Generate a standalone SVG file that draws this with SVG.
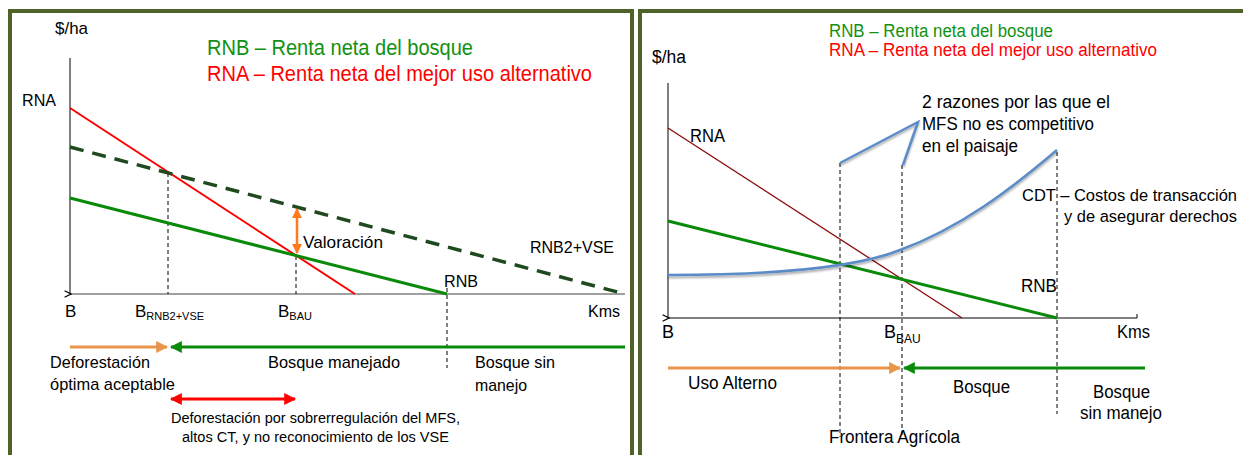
<svg xmlns="http://www.w3.org/2000/svg" width="1243" height="455" viewBox="0 0 1243 455">
  <defs>
    <style>
      text { font-family: "Liberation Sans Narrow", "Liberation Sans", Arial, sans-serif; fill: #000; }
      .t16 { font-size: 17px; }
      .t17 { font-size: 18px; }
      .cdt { font-size: 16.3px; }
      .green { fill: #119111; }
      .red { fill: #ff0000; }
      .frame { fill: #fff; stroke: #4f6228; stroke-width: 4; }
      .axis { stroke: #000; stroke-width: 1; fill: none; }
      .guide { stroke: #000; stroke-width: 1; stroke-dasharray: 4 3; fill: none; }
    </style>
    <marker id="axisHead" viewBox="0 0 10 10" refX="1" refY="5" markerWidth="8" markerHeight="8" markerUnits="userSpaceOnUse" orient="auto-start-reverse">
      <path d="M9,1 L1,5 L9,9" fill="none" stroke="#000" stroke-width="1.6"/>
    </marker>
    <marker id="headOrange" viewBox="0 0 10 10" refX="9" refY="5" markerWidth="4" markerHeight="4" orient="auto-start-reverse">
      <path d="M0,0 L10,5 L0,10 z" fill="#e8944a"/>
    </marker>
    <marker id="headGreen" viewBox="0 0 10 10" refX="9" refY="5" markerWidth="4" markerHeight="4" orient="auto-start-reverse">
      <path d="M0,0 L10,5 L0,10 z" fill="#0a8a0a"/>
    </marker>
    <marker id="headRed" viewBox="0 0 10 10" refX="9" refY="5" markerWidth="4" markerHeight="4" orient="auto-start-reverse">
      <path d="M0,0 L10,5 L0,10 z" fill="#ff0000"/>
    </marker>
    <marker id="headValor" viewBox="0 0 10 10" refX="9" refY="5" markerWidth="4" markerHeight="4" orient="auto-start-reverse">
      <path d="M0,0 L10,5 L0,10 z" fill="#ff7a1a"/>
    </marker>
    <filter id="soft" x="-10%" y="-10%" width="120%" height="130%">
      <feDropShadow dx="0" dy="2" stdDeviation="1.2" flood-color="#000" flood-opacity="0.35"/>
    </filter>
  </defs>

  <rect width="1243" height="455" fill="#fff"/>

  <!-- panel frames -->
  <rect class="frame" x="10" y="11" width="622" height="460"/>
  <rect class="frame" x="640" y="11" width="620" height="460"/>

  <!-- ===== Left chart ===== -->
  <g id="left-axes">
    <line class="axis" x1="70" y1="58" x2="70" y2="294"/>
    <line x1="625" y1="294" x2="71" y2="294" stroke="#808080" stroke-width="1.5" marker-end="url(#axisHead)"/>
  </g>

  <g id="left-connectors">
    <!-- guides -->
    <line class="guide" x1="168" y1="173" x2="168" y2="294"/>
    <line class="guide" x1="296" y1="256" x2="296" y2="294"/>
    <line class="guide" x1="447" y1="288" x2="447" y2="368"/>
    <!-- curves -->
    <line id="rna-left" x1="70" y1="108" x2="355" y2="294" stroke="#ff0000" stroke-width="2"/>
    <line id="rnb2vse" x1="70" y1="147" x2="625" y2="294" stroke="#1f4a1f" stroke-width="3.5" stroke-dasharray="14 9"/>
    <line id="rnb-left" x1="70" y1="198" x2="447" y2="294" stroke="#0a8a0a" stroke-width="3"/>
    <!-- valuation gap -->
    <line x1="297" y1="209" x2="297" y2="253" stroke="#ff7a1a" stroke-width="2.5" marker-start="url(#headValor)" marker-end="url(#headValor)"/>
    <!-- land-use ranges -->
    <line x1="70" y1="347" x2="167" y2="347" stroke="#e8944a" stroke-width="3" marker-end="url(#headOrange)"/>
    <line x1="625" y1="347" x2="171" y2="347" stroke="#0a8a0a" stroke-width="3" marker-end="url(#headGreen)"/>
    <line x1="171" y1="399" x2="295" y2="399" stroke="#ff0000" stroke-width="3" marker-start="url(#headRed)" marker-end="url(#headRed)"/>
  </g>

  <g id="left-labels">
    <text class="t16" x="55" y="34" textLength="33" lengthAdjust="spacingAndGlyphs">$/ha</text>
    <text class="green" x="207" y="55" font-size="22" textLength="266" lengthAdjust="spacingAndGlyphs">RNB – Renta neta del bosque</text>
    <text class="red" x="207" y="81" font-size="22" textLength="385" lengthAdjust="spacingAndGlyphs">RNA – Renta neta del mejor uso alternativo</text>
    <text class="t16" x="22" y="106" textLength="34" lengthAdjust="spacingAndGlyphs">RNA</text>
    <text class="t16" x="303" y="248" textLength="80" lengthAdjust="spacingAndGlyphs">Valoración</text>
    <text class="t16" x="530" y="253" textLength="84" lengthAdjust="spacingAndGlyphs">RNB2+VSE</text>
    <text class="t16" x="444" y="287" textLength="34" lengthAdjust="spacingAndGlyphs">RNB</text>
    <text class="t16" x="65" y="317">B</text>
    <text class="t16" x="135" y="317">B<tspan font-size="11" dy="3">RNB2+VSE</tspan></text>
    <text class="t16" x="278" y="317">B<tspan font-size="11" dy="3">BAU</tspan></text>
    <text class="t16" x="588" y="317" textLength="32" lengthAdjust="spacingAndGlyphs">Kms</text>
    <text class="t16" x="50" y="368" textLength="100" lengthAdjust="spacingAndGlyphs">Deforestación</text>
    <text class="t16" x="50" y="390" textLength="125" lengthAdjust="spacingAndGlyphs">óptima aceptable</text>
    <text class="t16" x="268" y="368" textLength="132" lengthAdjust="spacingAndGlyphs">Bosque manejado</text>
    <text class="t16" x="475" y="368" textLength="80" lengthAdjust="spacingAndGlyphs">Bosque sin</text>
    <text class="t16" x="475" y="391" textLength="52" lengthAdjust="spacingAndGlyphs">manejo</text>
    <text x="171" y="423" font-size="15.5" textLength="289" lengthAdjust="spacingAndGlyphs">Deforestación por sobrerregulación del MFS,</text>
    <text x="182" y="442" font-size="15.5" textLength="267" lengthAdjust="spacingAndGlyphs">altos CT, y no reconocimiento de los VSE</text>
  </g>

  <!-- ===== Right chart ===== -->
  <g id="right-axes">
    <line class="axis" x1="668" y1="83" x2="668" y2="318"/>
    <line class="axis" x1="1137" y1="318" x2="669" y2="318" marker-end="url(#axisHead)"/>
    <line class="axis" x1="1137" y1="314" x2="1137" y2="318"/>
  </g>

  <g id="right-connectors">
    <line class="guide" x1="840" y1="163" x2="840" y2="437"/>
    <line class="guide" x1="902" y1="165" x2="902" y2="437"/>
    <line class="guide" x1="1057" y1="152" x2="1057" y2="414"/>
    <line id="rna-right" x1="668" y1="128" x2="962" y2="318" stroke="#8b0a0a" stroke-width="1.3"/>
    <line id="rnb-right" x1="668" y1="221" x2="1057" y2="318" stroke="#0a8a0a" stroke-width="3"/>
    <path id="cdt" d="M668,275 C760,275 850,270 900,250 C960,228 1010,190 1057,150" fill="none" stroke="#5b8cc8" stroke-width="2.5" filter="url(#soft)"/>
    <path id="callout" d="M840,163 L918,122 L903,165" fill="none" stroke="#5b8cc8" stroke-width="2.5" filter="url(#soft)"/>
    <line x1="668" y1="368" x2="900" y2="368" stroke="#e8944a" stroke-width="3" marker-end="url(#headOrange)"/>
    <line x1="1145" y1="368" x2="904" y2="368" stroke="#0a8a0a" stroke-width="3" marker-end="url(#headGreen)"/>
  </g>

  <g id="right-labels">
    <text class="green t17" x="829" y="37" textLength="224" lengthAdjust="spacingAndGlyphs">RNB – Renta neta del bosque</text>
    <text class="red t17" x="829" y="56" textLength="328" lengthAdjust="spacingAndGlyphs">RNA – Renta neta del mejor uso alternativo</text>
    <text class="t17" x="652" y="63" textLength="34" lengthAdjust="spacingAndGlyphs">$/ha</text>
    <text class="t17" x="922" y="108" textLength="188" lengthAdjust="spacingAndGlyphs">2 razones por las que el</text>
    <text class="t17" x="922" y="130" textLength="172" lengthAdjust="spacingAndGlyphs">MFS no es competitivo</text>
    <text class="t17" x="922" y="152" textLength="96" lengthAdjust="spacingAndGlyphs">en el paisaje</text>
    <text class="t17" x="690" y="142" textLength="35" lengthAdjust="spacingAndGlyphs">RNA</text>
    <text class="cdt" x="1022" y="201" textLength="215" lengthAdjust="spacingAndGlyphs">CDT – Costos de transacción</text>
    <text class="cdt" x="1064" y="222" textLength="173" lengthAdjust="spacingAndGlyphs">y de asegurar derechos</text>
    <text class="t17" x="1021" y="292" textLength="36" lengthAdjust="spacingAndGlyphs">RNB</text>
    <text class="t17" x="662" y="338">B</text>
    <text class="t17" x="884" y="338">B<tspan font-size="12" dy="5">BAU</tspan></text>
    <text class="t17" x="1117" y="338" textLength="33" lengthAdjust="spacingAndGlyphs">Kms</text>
    <text class="t17" x="688" y="389" textLength="89" lengthAdjust="spacingAndGlyphs">Uso Alterno</text>
    <text class="t17" x="953" y="393" textLength="57" lengthAdjust="spacingAndGlyphs">Bosque</text>
    <text class="t17" x="1093" y="398" textLength="57" lengthAdjust="spacingAndGlyphs">Bosque</text>
    <text class="t17" x="1080" y="419" textLength="82" lengthAdjust="spacingAndGlyphs">sin manejo</text>
    <text class="t17" x="829" y="443" textLength="131" lengthAdjust="spacingAndGlyphs">Frontera Agrícola</text>
  </g>
</svg>
